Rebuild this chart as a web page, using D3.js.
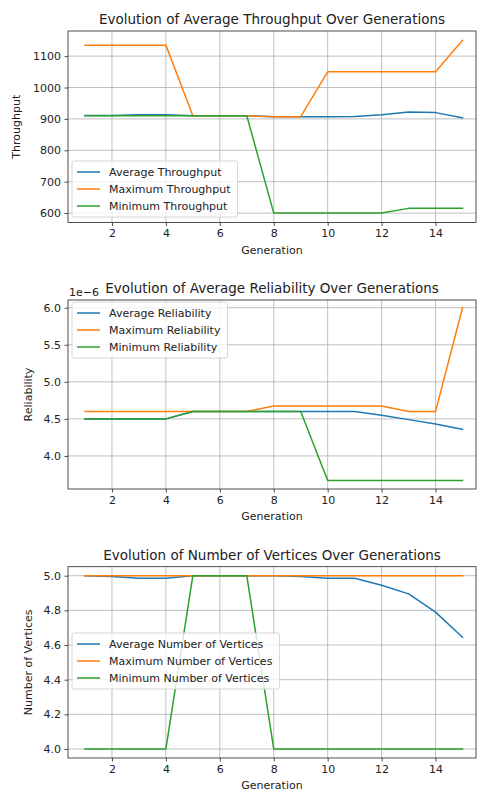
<!DOCTYPE html>
<html>
<head>
<meta charset="utf-8">
<script src="https://cdn.jsdelivr.net/npm/d3@7"></script>
<style>
  body { margin: 0; background: #fff; }
  svg text { font-family: "DejaVu Sans", sans-serif; fill: #222; }
</style>
</head>
<body>
<div id="chart"></div>
<script>
// Data
const generations = [1, 2, 3, 4, 5, 6, 7, 8, 9, 10, 11, 12, 13, 14, 15];
const xTicks = [2, 4, 6, 8, 10, 12, 14];

const throughputAvg = [911, 911, 913, 913, 910, 910, 910, 907, 907, 907, 908, 913, 922, 920, 903];
const throughputMax = [1135, 1135, 1135, 1135, 910, 910, 910, 907, 907, 1050, 1050, 1050, 1050, 1050, 1150];
const throughputMin = [910, 910, 910, 910, 910, 910, 910, 600, 600, 600, 600, 600, 615, 615, 615];
const throughputTicks = [600, 700, 800, 900, 1000, 1100];

const reliabilityAvg = [4.5e-6, 4.5e-6, 4.5e-6, 4.5e-6, 4.6e-6, 4.6e-6, 4.6e-6, 4.6e-6, 4.6e-6, 4.6e-6, 4.6e-6, 4.55e-6, 4.49e-6, 4.43e-6, 4.36e-6];
const reliabilityMax = [4.6e-6, 4.6e-6, 4.6e-6, 4.6e-6, 4.6e-6, 4.6e-6, 4.6e-6, 4.675e-6, 4.675e-6, 4.675e-6, 4.675e-6, 4.675e-6, 4.6e-6, 4.6e-6, 6.0e-6];
const reliabilityMin = [4.5e-6, 4.5e-6, 4.5e-6, 4.5e-6, 4.6e-6, 4.6e-6, 4.6e-6, 4.6e-6, 4.6e-6, 3.67e-6, 3.67e-6, 3.67e-6, 3.67e-6, 3.67e-6, 3.67e-6];
const reliabilityTicks = [4.0e-6, 4.5e-6, 5.0e-6, 5.5e-6, 6.0e-6];

const verticesAvg = [5.0, 4.995, 4.985, 4.985, 5.0, 5.0, 5.0, 5.0, 4.995, 4.985, 4.985, 4.945, 4.895, 4.79, 4.645];
const verticesMax = [5, 5, 5, 5, 5, 5, 5, 5, 5, 5, 5, 5, 5, 5, 5];
const verticesMin = [4, 4, 4, 4, 5, 5, 5, 4, 4, 4, 4, 4, 4, 4, 4];
const verticesTicks = [4.0, 4.2, 4.4, 4.6, 4.8, 5.0];

const colors = ["#1f77b4", "#ff7f0e", "#2ca02c"];

const W = 480, H = 794;
const xLeft = 68, xRight = 476;

const svg = d3.select("#chart").append("svg")
    .attr("width", W)
    .attr("height", H);

const x = d3.scaleLinear().domain([0.37, 15.5]).range([xLeft, xRight]);

const panels = [
    {
        title: "Evolution of Average Throughput Over Generations",
        ylabel: "Throughput", yLabelX: 20,
        top: 31, bottom: 222.5, yDomain: [570, 1180],
        ticks: throughputTicks, fmt: d => d3.format("d")(d),
        names: ["Average Throughput", "Maximum Throughput", "Minimum Throughput"],
        series: [throughputAvg, throughputMax, throughputMin],
        legendTop: 161, offset: null
    },
    {
        title: "Evolution of Average Reliability Over Generations",
        ylabel: "Reliability", yLabelX: 32,
        top: 300, bottom: 489, yDomain: [3.554e-6, 6.104e-6],
        ticks: reliabilityTicks, fmt: d => (d / 1e-6).toFixed(1),
        names: ["Average Reliability", "Maximum Reliability", "Minimum Reliability"],
        series: [reliabilityAvg, reliabilityMax, reliabilityMin],
        legendTop: 302, offset: "1e\u22126"
    },
    {
        title: "Evolution of Number of Vertices Over Generations",
        ylabel: "Number of Vertices", yLabelX: 32,
        top: 566.7, bottom: 758, yDomain: [3.948, 5.052],
        ticks: verticesTicks, fmt: d => d.toFixed(1),
        names: ["Average Number of Vertices", "Maximum Number of Vertices", "Minimum Number of Vertices"],
        series: [verticesAvg, verticesMax, verticesMin],
        legendTop: 633, offset: null
    }
];

panels.forEach(p => drawPanel(p));

function drawPanel(p) {
    const y = d3.scaleLinear().domain(p.yDomain).range([p.bottom, p.top]);
    const g = svg.append("g");

    // grid
    g.selectAll(".vgrid").data(xTicks).enter().append("line")
        .attr("x1", d => x(d)).attr("x2", d => x(d))
        .attr("y1", p.top).attr("y2", p.bottom)
        .attr("stroke", "#b0b0b0").attr("stroke-width", 0.8);
    g.selectAll(".hgrid").data(p.ticks).enter().append("line")
        .attr("x1", xLeft).attr("x2", xRight)
        .attr("y1", d => y(d)).attr("y2", d => y(d))
        .attr("stroke", "#b0b0b0").attr("stroke-width", 0.8);

    // lines
    const line = d3.line()
        .x((d, i) => x(generations[i]))
        .y(d => y(d));
    p.series.forEach((s, k) => {
        g.append("path")
            .datum(s)
            .attr("d", line)
            .attr("fill", "none")
            .attr("stroke", colors[k])
            .attr("stroke-width", 1.5)
            .attr("stroke-linejoin", "round")
            .attr("stroke-linecap", "square");
    });

    // axes
    const xAxis = d3.axisBottom(x).tickValues(xTicks).tickSize(3.5).tickPadding(3.5);
    const yAxis = d3.axisLeft(y).tickValues(p.ticks).tickFormat(p.fmt).tickSize(3.5).tickPadding(3.5);

    const gx = g.append("g")
        .attr("transform", "translate(0," + p.bottom + ")")
        .call(xAxis);
    const gy = g.append("g")
        .attr("transform", "translate(" + xLeft + ",0)")
        .call(yAxis);
    [gx, gy].forEach(a => {
        a.select(".domain").remove();
        a.selectAll("line").attr("stroke", "#222").attr("stroke-width", 0.8);
        a.selectAll("text").style("font-size", "11px").attr("fill", "#222");
    });

    // spines
    g.append("rect")
        .attr("x", xLeft).attr("y", p.top)
        .attr("width", xRight - xLeft).attr("height", p.bottom - p.top)
        .attr("fill", "none").attr("stroke", "#222").attr("stroke-width", 0.8);

    // title
    g.append("text")
        .attr("x", (xLeft + xRight) / 2)
        .attr("y", p.top - 7)
        .attr("text-anchor", "middle")
        .style("font-size", "13.5px")
        .text(p.title);

    // x label
    g.append("text")
        .attr("x", (xLeft + xRight) / 2)
        .attr("y", p.bottom + 31)
        .attr("text-anchor", "middle")
        .style("font-size", "11px")
        .text("Generation");

    // y label
    g.append("text")
        .attr("transform", "rotate(-90)")
        .attr("x", -(p.top + p.bottom) / 2)
        .attr("y", p.yLabelX)
        .attr("text-anchor", "middle")
        .style("font-size", "11px")
        .text(p.ylabel);

    if (p.offset) {
        g.append("text")
            .attr("x", xLeft + 1)
            .attr("y", p.top - 4)
            .style("font-size", "11px")
            .text(p.offset);
    }

    // legend
    const lg = g.append("g");
    const box = lg.append("rect")
        .attr("x", 72).attr("y", p.legendTop)
        .attr("rx", 2).attr("ry", 2)
        .attr("fill", "white").attr("fill-opacity", 0.8)
        .attr("stroke", "#cccccc").attr("stroke-width", 0.8);
    let maxW = 0;
    p.names.forEach((name, k) => {
        const cy = p.legendTop + 11 + k * 17;
        lg.append("line")
            .attr("x1", 77).attr("x2", 100)
            .attr("y1", cy).attr("y2", cy)
            .attr("stroke", colors[k]).attr("stroke-width", 1.5);
        const t = lg.append("text")
            .attr("x", 109).attr("y", cy + 4)
            .style("font-size", "11px")
            .text(name);
        maxW = Math.max(maxW, t.node().getComputedTextLength());
    });
    box.attr("width", 109 + maxW + 7 - 72).attr("height", 56);
}
</script>
</body>
</html>
